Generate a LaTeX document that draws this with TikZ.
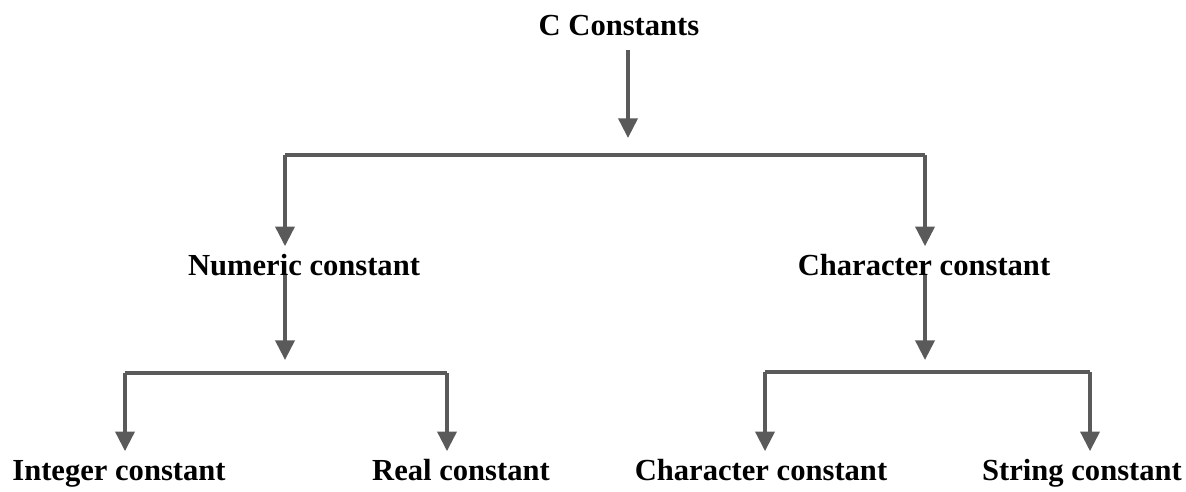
\documentclass[tikz,border=0pt]{standalone}
\usepackage{fontspec}
\setmainfont{Liberation Serif}
\definecolor{arrowgray}{RGB}{90, 90, 90}
\usepackage{tikz}
\usetikzlibrary{arrows.meta, positioning, calc}

\begin{document}
\begin{tikzpicture}[x=0.01cm, y=-0.01cm,
    label/.style={font=\bfseries\fontsize{8.7}{10}\selectfont, text=black, inner sep=2pt, text height=6pt, text depth=2pt},
    bar/.style={draw=arrowgray, line width=1.1pt, line join=round},
    arr/.style={bar, -{Triangle[length=5.6pt, width=5.4pt]}}]
  \useasboundingbox (0, 0) rectangle (1186, 491);

  % Root
  \node[label] (root) at (619, 28) {C Constants};

  % Second level
  \node[label] (numeric) at (304, 268) {Numeric constant};
  \node[label] (character) at (924, 268) {Character constant};

  % Third level
  \node[label] (integer) at (119, 473) {Integer constant};
  \node[label] (real) at (461, 473) {Real constant};
  \node[label] (charconst) at (761, 473) {Character constant};
  \node[label] (string) at (1082, 473) {String constant};

  % Root to second level
  \coordinate (rootdown) at (628, 138);
  \coordinate (barAleft) at (285, 155);
  \coordinate (barAright) at (925, 155);
  \draw[arr] (root.south -| rootdown) -- (rootdown);
  \draw[bar] (barAleft) -- (barAright);
  \draw[arr] (barAleft) -- (barAleft |- numeric.north);
  \draw[arr] (barAright) -- (barAright |- character.north);

  % Numeric constant branch
  \coordinate (numdown) at (285, 360);
  \coordinate (barBleft) at (125, 373);
  \coordinate (barBright) at (447, 373);
  \draw[arr] ([yshift=-2pt]numeric.center -| numdown) -- (numdown);
  \draw[bar] (barBleft) -- (barBright);
  \draw[arr] (barBleft) -- (barBleft |- integer.north);
  \draw[arr] (barBright) -- (barBright |- real.north);

  % Character constant branch
  \coordinate (chardown) at (925, 360);
  \coordinate (barCleft) at (765, 372);
  \coordinate (barCright) at (1090, 372);
  \draw[arr] ([yshift=-2pt]character.center -| chardown) -- (chardown);
  \draw[bar] (barCleft) -- (barCright);
  \draw[arr] (barCleft) -- (barCleft |- charconst.north);
  \draw[arr] (barCright) -- (barCright |- string.north);
\end{tikzpicture}
\end{document}
